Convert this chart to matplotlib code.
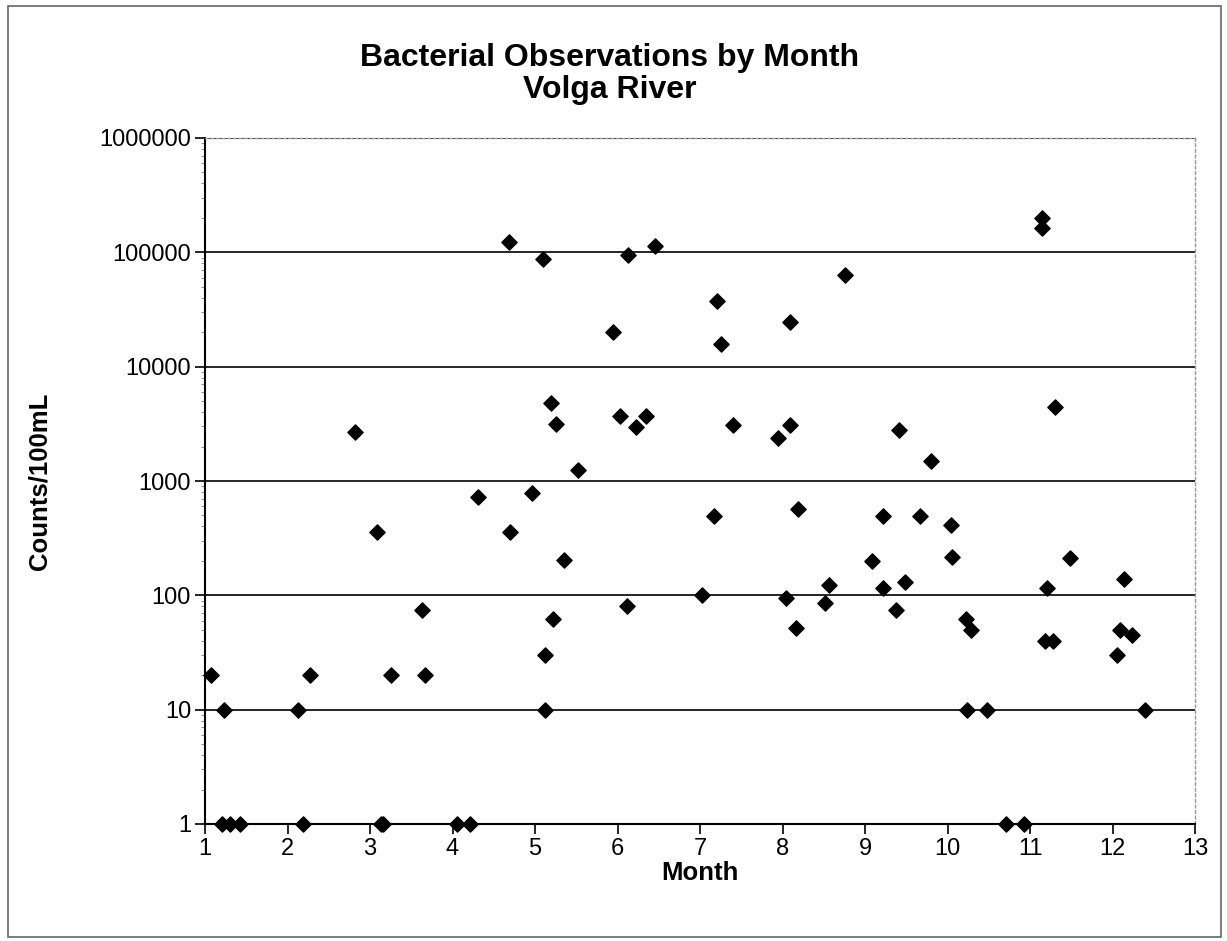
import matplotlib
matplotlib.use('Agg')
import matplotlib.pyplot as plt
from matplotlib.patches import Rectangle
from matplotlib.ticker import LogLocator, FixedLocator, NullFormatter

plt.rcParams['font.family'] = ['Liberation Sans', 'DejaVu Sans']

# month (fractional) and counts per 100 mL
month = [1.07, 1.23, 1.21, 1.30, 1.43,
         2.13, 2.27, 2.19, 2.82,
         3.08, 3.25, 3.13, 3.16, 3.63, 3.67,
         4.05, 4.21, 4.31, 4.68, 4.70, 4.96,
         5.10, 5.12, 5.12, 5.19, 5.22, 5.25, 5.35, 5.52,
         5.95, 6.03, 6.11, 6.13, 6.23, 6.34, 6.46,
         7.02, 7.17, 7.20, 7.26, 7.40,
         7.94, 8.04, 8.09, 8.09, 8.16, 8.19, 8.52, 8.56, 8.76,
         9.08, 9.22, 9.22, 9.38, 9.41, 9.48, 9.67, 9.80,
         10.04, 10.06, 10.23, 10.24, 10.29, 10.48, 10.71, 10.93,
         11.14, 11.14, 11.18, 11.21, 11.28, 11.30, 11.48,
         12.06, 12.09, 12.14, 12.24, 12.39]
counts = [20, 10, 1, 1, 1,
          10, 20, 1, 2700,
          360, 20, 1, 1, 74, 20,
          1, 1, 730, 122000, 360, 790,
          87000, 30, 10, 4800, 62, 3150, 205, 1240,
          20300, 3680, 80, 94600, 2990, 3680, 114000,
          100, 490, 37200, 15800, 3060,
          2370, 94, 24800, 3060, 52, 570, 85, 122, 63400,
          200, 490, 115, 74, 2800, 130, 490, 1510,
          410, 216, 62, 10, 50, 10, 1, 1,
          198000, 162000, 40, 117, 40, 4450, 211,
          30, 50, 140, 45, 10]

month_ticks = list(range(1, 14))
count_ticks = [1, 10, 100, 1000, 10000, 100000, 1000000]

fig = plt.figure(figsize=(12.27, 9.41), dpi=100)
ax = fig.add_axes([205 / 1227, 1 - 824 / 941, 990 / 1227, 686 / 941])

ax.scatter(month, counts, marker='D', s=60, color='black', zorder=3, clip_on=False)

ax.set_yscale('log')
ax.set_ylim(1, 1000000)
ax.set_xlim(1, 13)
ax.xaxis.set_major_locator(FixedLocator(month_ticks))
ax.set_yticks(count_ticks)
ax.set_yticklabels([str(v) for v in count_ticks])
ax.yaxis.set_minor_locator(LogLocator(base=10, subs=range(2, 10), numticks=20))
ax.yaxis.set_minor_formatter(NullFormatter())

ax.grid(True, which='major', axis='y', color='black', linewidth=1.2)
ax.tick_params(axis='both', which='major', labelsize=17, direction='out', length=7,
               width=1.2, color='black')
ax.tick_params(axis='x', which='major', pad=3)
ax.tick_params(axis='y', which='major', pad=3)
ax.tick_params(axis='y', which='minor', direction='out', length=3, width=0.6, color='#777777')

for s in ['left', 'bottom']:
    ax.spines[s].set_color('black')
    ax.spines[s].set_linewidth(1.5)
for s in ['top', 'right']:
    ax.spines[s].set_color('#999999')
    ax.spines[s].set_linestyle((0, (2, 2)))
    ax.spines[s].set_linewidth(1)

ax.set_xlabel('Month', fontsize=18.5, fontweight='bold')
ax.set_ylabel('Counts/100mL', fontsize=18.5, fontweight='bold')
ax.xaxis.set_label_coords(0.5, (824 - 861) / 686)
ax.yaxis.set_label_coords((52 - 205) / 990, 0.5)

fig.text(610 / 1227, 1 - 58 / 941, 'Bacterial Observations by Month', ha='center', va='center',
         fontsize=23, fontweight='bold')
fig.text(610 / 1227, 1 - 90 / 941, 'Volga River', ha='center', va='center',
         fontsize=23, fontweight='bold')

fig.patches.append(Rectangle((8 / 1227, 4 / 941), 1213 / 1227, 931 / 941,
                             transform=fig.transFigure, fill=False,
                             edgecolor='#666666', linewidth=1.2))

fig.savefig('out.png', dpi=100)
